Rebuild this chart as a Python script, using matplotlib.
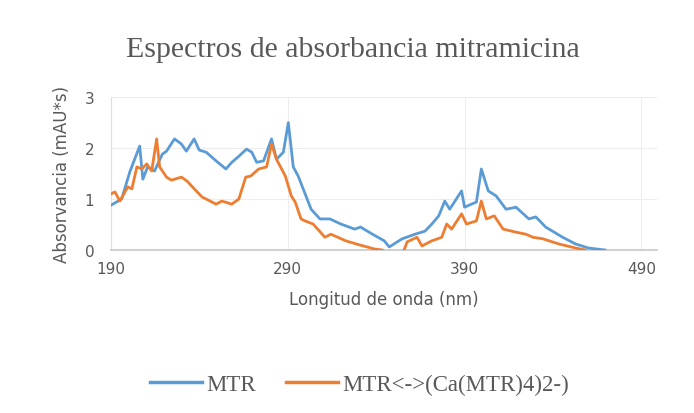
import numpy as np
import matplotlib
matplotlib.use("Agg")
import matplotlib.pyplot as plt
from matplotlib.lines import Line2D

# MTR spectrum (wavelength nm, absorbance)
mtr_nm = [190, 196, 200.6, 206.2, 208, 210.7, 214.6, 219, 221.4, 225.9, 229.8, 232.6,
          237, 239.9, 243.8, 249.4, 255, 258.3, 262.3, 266.7, 269.6, 272.4, 276.3,
          280.8, 283.6, 287.5, 290.3, 293.1, 295.9, 298.7, 303.2, 308.2, 313.8, 320,
          327.8, 331.2, 337.9, 344.6, 347.4, 354.7, 362, 367.6, 371.5, 375.4, 378.8,
          381.6, 388.3, 390, 393.9, 396.7, 399.5, 403.4, 407.9, 413.5, 419.1, 426.4,
          430.3, 435.9, 445.5, 452.7, 460, 469.5]
mtr_abs = [0.88, 1.0, 1.53, 2.04, 1.39, 1.63, 1.55, 1.88, 1.94, 2.18, 2.08, 1.94,
           2.18, 1.96, 1.92, 1.75, 1.59, 1.72, 1.84, 1.98, 1.92, 1.72, 1.75,
           2.18, 1.78, 1.92, 2.5, 1.63, 1.45, 1.2, 0.8, 0.61, 0.61, 0.51,
           0.41, 0.45, 0.31, 0.18, 0.06, 0.22, 0.31, 0.37, 0.51, 0.67, 0.96,
           0.8, 1.16, 0.84, 0.9, 0.94, 1.59, 1.16, 1.06, 0.8, 0.84, 0.61,
           0.65, 0.45, 0.25, 0.12, 0.04, 0.0]

# MTR<->(Ca(MTR)4)2- spectrum
ca_nm = [190, 192.2, 195, 199.5, 201.8, 204.6, 207.4, 210.2, 213, 215.8, 217.5,
         221.4, 224.2, 229.8, 233.1, 237.1, 241.5, 243.8, 249.4, 252.7, 258.3,
         262.3, 266.2, 269, 273.5, 278, 280.8, 283.6, 288.6, 292, 294.2, 297.5,
         299.8, 304.3, 311, 314.4, 322.8, 330.6, 339, 343.5, 346, 353, 355.8,
         357.5, 363.1, 365.9, 371.5, 377.1, 379.9, 382.7, 388.3, 391.1, 396.7,
         399.5, 402.3, 406.8, 411.8, 419.1, 424.7, 428.7, 434.3, 443.2, 452.7, 458.3]
ca_abs = [1.1, 1.14, 0.96, 1.24, 1.2, 1.63, 1.59, 1.69, 1.55, 2.18, 1.63,
          1.43, 1.37, 1.43, 1.35, 1.2, 1.04, 1.0, 0.9, 0.96, 0.9,
          1.0, 1.43, 1.45, 1.59, 1.63, 2.08, 1.78, 1.45, 1.06, 0.94, 0.61,
          0.57, 0.51, 0.25, 0.31, 0.18, 0.1, 0.02, 0.0, -0.1, -0.1, 0.0,
          0.16, 0.25, 0.08, 0.18, 0.25, 0.51, 0.41, 0.71, 0.51, 0.57,
          0.96, 0.61, 0.67, 0.41, 0.35, 0.31, 0.25, 0.22, 0.12, 0.04, 0.0]

xticks = [190, 290, 390, 490]
yticks = [0, 1, 2, 3]
labels = ["MTR", "MTR<->(Ca(MTR)4)2-)"]
title = "Espectros de absorbancia mitramicina"

blue = "#5B9BD5"
orange = "#ED7D31"
txt = "#595959"

fig = plt.figure(figsize=(6.94, 4.14), dpi=100)
ax = fig.add_axes([0.16, 0.3937, 0.787, 0.3693])

ax.plot(mtr_nm, mtr_abs, color=blue, lw=2.0, solid_joinstyle="round", zorder=3)
ax.plot(ca_nm, ca_abs, color=orange, lw=2.0, solid_joinstyle="round", zorder=3)

ax.set_xlim(190, 499)
ax.set_ylim(0, 3)
ax.set_xticks(xticks)
ax.set_yticks(yticks)
ax.grid(True, color="#EDEDED", lw=0.8, zorder=0)
for s in ["top", "right"]:
    ax.spines[s].set_visible(False)
ax.spines["left"].set_color("#E0E0E0")
ax.spines["bottom"].set_color("#C8C8C8")
ax.spines["bottom"].set_linewidth(1.2)
ax.tick_params(length=0, colors=txt, labelsize=11, pad=8)
ax.tick_params(axis="y", pad=12)
for lab in ax.get_xticklabels() + ax.get_yticklabels():
    lab.set_family("DejaVu Sans")

ax.set_xlabel("Longitud de onda (nm)", color=txt, fontsize=12, labelpad=10)
ax.set_ylabel("Absorvancia (mAU*s)", color=txt, fontsize=12, labelpad=10)

fig.text(0.509, 0.88, title, ha="center", va="center", color=txt,
         fontsize=21.5, family="Liberation Serif")

handles = [Line2D([], [], color=blue, lw=2.5), Line2D([], [], color=orange, lw=2.5)]
fig.legend(handles, labels, loc="center", bbox_to_anchor=(0.518, 0.07), ncol=2,
           frameon=False, prop={"family": "Liberation Serif", "size": 16.5},
           labelcolor=txt, handlelength=2.27, handletextpad=0.2, columnspacing=1.3)

fig.savefig("out.png", dpi=100, facecolor="white")
